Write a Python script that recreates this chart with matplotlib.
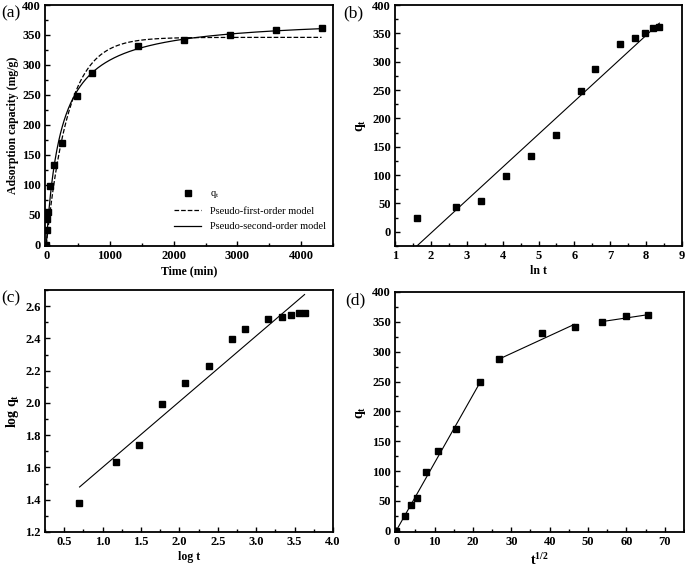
import numpy as np
import matplotlib
matplotlib.use("Agg")
import matplotlib.pyplot as plt
from matplotlib.ticker import AutoMinorLocator, MultipleLocator, FormatStrFormatter

plt.rcParams['font.family'] = ['Liberation Serif', 'DejaVu Serif']
plt.rcParams['mathtext.fontset'] = 'custom'
plt.rcParams['mathtext.rm'] = 'Liberation Serif'
plt.rcParams['mathtext.it'] = 'Liberation Serif:italic'
plt.rcParams['mathtext.bf'] = 'Liberation Serif:bold'

# contact time (min) and measured uptake q_t (mg/g)
t_min = [0, 5, 15, 30, 60, 120, 240, 480, 720, 1440, 2160, 2880, 3600, 4320]
q_t = [0, 24, 43, 55, 98, 133, 170, 249, 287, 331, 342, 350, 359, 362]

# model parameters in (a)
qe_pfo, k1 = 346.0, 0.0029
qe_pso, k2 = 380.0, 1.13e-5

# fitted line ends in (b), (c) and the three segments in (d)
elovich_x = [1.61, 8.37]
elovich_y = [-25, 368]
freund_x = [0.70, 3.63]
freund_y = [1.479, 2.672]
ipd_segments = [([0, 21.9], [0, 249]),
                ([26.6, 46.4], [287, 345.7]),
                ([53.7, 65.6], [350.5, 362])]

t = np.array(t_min, dtype=float)
q = np.array(q_t, dtype=float)
pos = t > 0

W, H = 685, 571
fig = plt.figure(figsize=(W / 100, H / 100), dpi=100)
TICK = 9
LAB = 8.5
axes = []


def make_ax(l, r, top, bot):
    ax = fig.add_axes([l / W, 1 - bot / H, (r - l) / W, (bot - top) / H])
    for s in ax.spines.values():
        s.set_linewidth(1.3)
    ax.tick_params(which='both', direction='in', top=False, right=False,
                   labelsize=TICK, width=1.0, pad=3)
    ax.tick_params(which='major', length=3.5)
    ax.tick_params(which='minor', length=2)
    ax.xaxis.set_minor_locator(AutoMinorLocator(2))
    ax.yaxis.set_minor_locator(AutoMinorLocator(2))
    axes.append(ax)
    return ax


mk = dict(marker='s', color='black', ms=4.5, ls='none')
bold = dict(fontweight='bold')

# (a)
ax = make_ax(45, 333, 5, 246)
tt = np.linspace(0, 4320, 600)
ax.plot(t, q, label=r'q$_\mathregular{t}$', **mk)
ax.plot(tt, qe_pfo * (1 - np.exp(-k1 * tt)), 'k--', lw=0.9,
        label='Pseudo-first-order model')
ax.plot(tt, qe_pso ** 2 * k2 * tt / (1 + qe_pso * k2 * tt), 'k-', lw=0.9,
        label='Pseudo-second-order model')
ax.set_xlim(-20, 4500)
ax.set_ylim(-2, 400)
ax.xaxis.set_major_locator(MultipleLocator(1000))
ax.yaxis.set_major_locator(MultipleLocator(50))
ax.set_xlabel('Time (min)', fontsize=LAB, labelpad=2, **bold)
ax.set_ylabel('Adsorption capacity (mg/g)', fontsize=LAB, labelpad=2, **bold)
ax.legend(loc='lower right', frameon=False, handlelength=2.6, fontsize=7.5,
          borderaxespad=0.3, labelspacing=0.6, bbox_to_anchor=(1.0, 0.03))

# (b)
ax = make_ax(395, 682, 5, 246)
ax.plot(np.log(t[pos]), q[pos], **mk)
ax.plot(elovich_x, elovich_y, 'k-', lw=0.8)
ax.set_xlim(1, 9)
ax.set_ylim(-25, 400)
ax.xaxis.set_major_locator(MultipleLocator(1))
ax.yaxis.set_major_locator(MultipleLocator(50))
ax.set_xlabel('ln t', fontsize=LAB, labelpad=2, **bold)
ax.set_ylabel(r'$\mathbf{q_t}$', fontsize=10, labelpad=3)

# (c)
ax = make_ax(45, 333, 290, 532)
ax.plot(np.log10(t[pos]), np.log10(q[pos]), **mk)
ax.plot(freund_x, freund_y, 'k-', lw=0.8)
ax.set_xlim(0.25, 4.0)
ax.set_ylim(1.2, 2.7)
ax.xaxis.set_major_locator(MultipleLocator(0.5))
ax.yaxis.set_major_locator(MultipleLocator(0.2))
ax.xaxis.set_major_formatter(FormatStrFormatter('%.1f'))
ax.yaxis.set_major_formatter(FormatStrFormatter('%.1f'))
ax.set_xlabel('log t', fontsize=LAB, labelpad=2, **bold)
ax.set_ylabel(r'$\mathbf{log\ q_t}$', fontsize=10, labelpad=3)

# (d)
ax = make_ax(395, 684, 292, 532)
ax.plot(np.sqrt(t), q, **mk)
for xs, ys in ipd_segments:
    ax.plot(xs, ys, 'k-', lw=0.8)
ax.set_xlim(-0.3, 75)
ax.set_ylim(-2, 400)
ax.xaxis.set_major_locator(MultipleLocator(10))
ax.yaxis.set_major_locator(MultipleLocator(50))
ax.set_xlabel(r'$\mathbf{t^{1/2}}$', fontsize=10, labelpad=3)
ax.set_ylabel(r'$\mathbf{q_t}$', fontsize=10, labelpad=3)

for lab, x, y in [('(a)', 1, 13), ('(b)', 343, 13), ('(c)', 1, 298), ('(d)', 345, 300)]:
    fig.text(x / W, 1 - y / H, lab, fontsize=12.5, ha='left', va='center')

# tick labels are created at draw time, so make them bold after a first draw
fig.canvas.draw()
for ax in axes:
    for lab in ax.get_xticklabels() + ax.get_yticklabels():
        lab.set_fontweight('bold')

fig.savefig('out.png', dpi=100)
